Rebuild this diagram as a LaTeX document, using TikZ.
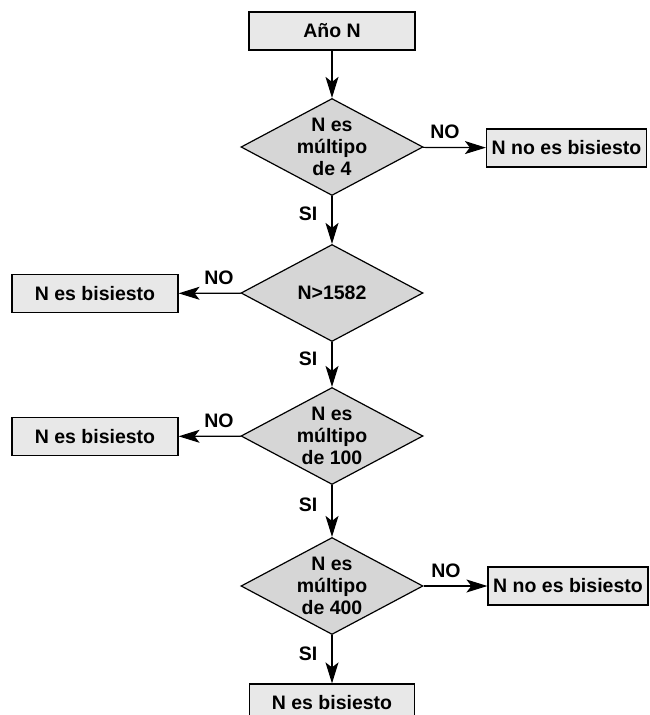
\documentclass[tikz,border=0pt]{standalone}
\usepackage{fontspec}
\setmainfont{Liberation Sans}
\usepackage{tikz}
\usetikzlibrary{arrows.meta}
\usetikzlibrary{shapes.geometric}

\begin{document}
\begin{tikzpicture}[x=1pt, y=-1pt, auto, line width=1.2pt,
        box_style/.style={rectangle,draw=black,fill=black!9,minimum width=166pt,minimum height=38pt,inner sep=0pt,font=\bfseries\fontsize{19.5}{21.7}\selectfont},
        test_style/.style={diamond,draw=black,fill=black!16,aspect=1.87,minimum width=182pt,minimum height=97pt,inner sep=0pt,align=center,font=\bfseries\fontsize{19.5}{21.7}\selectfont},
        edge_style/.style={draw=black, line width=1.2pt,-{Stealth[length=21pt,width=13pt,inset=5pt]}},
        si_label/.style={left=14pt,pos=0.38,inner sep=0pt,font=\bfseries\fontsize{19.5}{21.7}\selectfont},
        no_label/.style={above=8pt,pos=0.35,inner sep=0pt,font=\bfseries\fontsize{19.5}{21.7}\selectfont}]

        \useasboundingbox (0,0) rectangle (649,715);

        \node [box_style](anio) at (332,31) {Año N};

        \node [test_style](q4) at (332,147) {N es\\múltipo\\de 4};

        \node [box_style,minimum width=160pt](noA) at (566.5,148) {N no es bisiesto};

        \node [test_style](q1582) at (332,293) {N>1582};

        \node [box_style](siA) at (95,293.5) {N es bisiesto};

        \node [test_style](q100) at (332,436) {N es\\múltipo\\de 100};

        \node [box_style](siB) at (95,436.5) {N es bisiesto};

        \node [test_style](q400) at (332,586) {N es\\múltipo\\de 400};

        \node [box_style,minimum width=160pt](noB) at (568,586) {N no es bisiesto};

        \node [box_style,minimum width=165pt](siC) at (332,703) {N es bisiesto};

        \draw [edge_style] (anio) edge (q4);

        \draw [edge_style] (q4) edge node[no_label]{NO} (noA);

        \draw [edge_style] (q4) edge node[si_label]{SI} (q1582);

        \draw [edge_style] (q1582) edge node[no_label]{NO} (siA);

        \draw [edge_style] (q1582) edge node[si_label]{SI} (q100);

        \draw [edge_style] (q100) edge node[no_label]{NO} (siB);

        \draw [edge_style] (q100) edge node[si_label]{SI} (q400);

        \draw [edge_style] (q400) edge node[no_label]{NO} (noB);

        \draw [edge_style] (q400) edge node[si_label]{SI} (siC);

        \end{tikzpicture}
\end{document}
